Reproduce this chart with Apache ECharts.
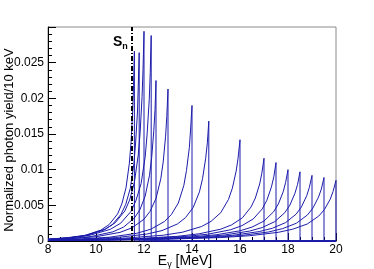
<!DOCTYPE html>
<html><head><meta charset="utf-8">
<script src="https://cdn.jsdelivr.net/npm/echarts/dist/echarts.min.js"></script>
<style>html,body{margin:0;padding:0;background:#fff}#c{width:374px;height:269px}</style>
</head><body><div id="c"></div><script>
// Endpoint energies of the spectra [MeV]
const endpoints = [11.6, 11.8, 12.0, 12.3, 12.5, 13.0, 14.0, 14.7, 16.0, 17.0, 17.5, 18.0, 18.5, 19.0, 19.5, 20.0];
// Energies (descending from the endpoint) for each spectrum
const energies = [
  [11.6, 11.565, 11.53, 11.46, 11.39, 11.25, 11.075, 10.9, 10.55, 10.2, 9.5, 8.8, 8.0],
  [11.8, 11.76, 11.73, 11.65, 11.58, 11.43, 11.24, 11.05, 10.68, 10.3, 9.55, 8.8, 8.0],
  [12.0, 11.96, 11.92, 11.84, 11.76, 11.6, 11.4, 11.2, 10.8, 10.4, 9.6, 8.8, 8.0],
  [12.3, 12.26, 12.22, 12.13, 12.05, 11.88, 11.66, 11.45, 11.03, 10.6, 9.75, 8.9, 8.0],
  [12.5, 12.46, 12.41, 12.32, 12.23, 12.05, 11.83, 11.6, 11.15, 10.7, 9.8, 8.9, 8.0],
  [13.0, 12.95, 12.9, 12.8, 12.7, 12.5, 12.25, 12.0, 11.5, 11.0, 10.0, 9.0, 8.0],
  [14.0, 13.94, 13.89, 13.77, 13.66, 13.43, 13.14, 12.85, 12.28, 11.7, 10.55, 9.4, 8.0],
  [14.7, 14.64, 14.57, 14.44, 14.31, 14.05, 13.73, 13.4, 12.75, 12.1, 10.8, 9.5, 8.0],
  [16.0, 15.92, 15.84, 15.68, 15.52, 15.2, 14.8, 14.4, 13.6, 12.8, 11.2, 9.6, 8.0],
  [17.0, 16.91, 16.82, 16.64, 16.46, 16.1, 15.65, 15.2, 14.3, 13.4, 11.6, 9.8, 8.0],
  [17.5, 17.41, 17.31, 17.12, 16.93, 16.55, 16.08, 15.6, 14.65, 13.7, 11.8, 9.9, 8.0],
  [18.0, 17.9, 17.8, 17.6, 17.4, 17.0, 16.5, 16.0, 15.0, 14.0, 12.0, 10.0, 8.0],
  [18.5, 18.4, 18.29, 18.08, 17.87, 17.45, 16.93, 16.4, 15.35, 14.3, 12.2, 10.1, 8.0],
  [19.0, 18.89, 18.78, 18.56, 18.34, 17.9, 17.35, 16.8, 15.7, 14.6, 12.4, 10.2, 8.0],
  [19.5, 19.39, 19.27, 19.04, 18.81, 18.35, 17.78, 17.2, 16.05, 14.9, 12.6, 10.3, 8.0],
  [20.0, 19.88, 19.76, 19.52, 19.28, 18.8, 18.2, 17.6, 16.4, 15.2, 12.8, 10.4, 8.0]
];
// Normalized photon yield per 10 keV at those energies
const yields = [
  [0.0266, 0.02179, 0.01835, 0.01383, 0.01091, 0.00745, 0.00519, 0.0038, 0.00231, 0.00152, 0.00074, 0.00041, 0.00023],
  [0.0264, 0.02162, 0.01822, 0.01373, 0.01082, 0.00739, 0.00515, 0.00378, 0.00229, 0.0015, 0.00074, 0.00041, 0.00023],
  [0.0294, 0.02408, 0.02029, 0.01529, 0.01205, 0.00823, 0.00573, 0.0042, 0.00255, 0.00168, 0.00082, 0.00046, 0.00026],
  [0.0288, 0.02359, 0.01987, 0.01498, 0.01181, 0.00806, 0.00562, 0.00412, 0.0025, 0.00164, 0.00081, 0.00045, 0.00025],
  [0.0225, 0.01843, 0.01553, 0.0117, 0.00923, 0.0063, 0.00439, 0.00322, 0.00195, 0.00128, 0.00063, 0.00035, 0.0002],
  [0.0213, 0.01744, 0.0147, 0.01108, 0.00873, 0.00596, 0.00415, 0.00305, 0.00185, 0.00121, 0.0006, 0.00033, 0.00019],
  [0.019, 0.01556, 0.01311, 0.00988, 0.00779, 0.00532, 0.00371, 0.00272, 0.00165, 0.00108, 0.00053, 0.00029, 0.00016],
  [0.0168, 0.01376, 0.01159, 0.00874, 0.00689, 0.0047, 0.00328, 0.0024, 0.00146, 0.00096, 0.00047, 0.00026, 0.00014],
  [0.0142, 0.01163, 0.0098, 0.00738, 0.00582, 0.00398, 0.00277, 0.00203, 0.00123, 0.00081, 0.0004, 0.00022, 0.00013],
  [0.0116, 0.0095, 0.008, 0.00603, 0.00476, 0.00325, 0.00226, 0.00166, 0.00101, 0.00066, 0.00032, 0.00018, 0.0001],
  [0.011, 0.00901, 0.00759, 0.00572, 0.00451, 0.00308, 0.00215, 0.00157, 0.00095, 0.00063, 0.00031, 0.00017, 0.0001],
  [0.01, 0.00819, 0.0069, 0.0052, 0.0041, 0.0028, 0.00195, 0.00143, 0.00087, 0.00057, 0.00028, 0.00016, 0.00009],
  [0.0097, 0.00794, 0.00669, 0.00504, 0.00398, 0.00272, 0.00189, 0.00139, 0.00084, 0.00055, 0.00027, 0.00015, 0.00009],
  [0.0092, 0.00753, 0.00635, 0.00478, 0.00377, 0.00258, 0.00179, 0.00132, 0.0008, 0.00052, 0.00026, 0.00014, 0.00008],
  [0.0089, 0.00729, 0.00614, 0.00463, 0.00365, 0.00249, 0.00174, 0.00127, 0.00077, 0.00051, 0.00025, 0.00014, 0.00008],
  [0.0085, 0.00696, 0.00587, 0.00442, 0.00349, 0.00238, 0.00166, 0.00122, 0.00074, 0.00048, 0.00024, 0.00013, 0.00008]
];
const Sn = 11.5;
const xMin = 8, xMax = 20, xStep = 2;
const yMin = 0, yMax = 0.03, yStep = 0.005;
const yTickLabels = ['0', '0.005', '0.01', '0.015', '0.02', '0.025'];

const chart = echarts.init(document.getElementById('c'), null, {renderer: 'canvas'});
const FONT = 'Liberation Sans, Arial, sans-serif';
const curveColor = '#1c1cab';

const series = endpoints.map((e0, i) => {
  const pts = energies[i].map((e, j) => [e, yields[i][j]]).reverse();
  pts.push([e0, 0]);
  pts.push([xMax, 0]);
  return {
    type: 'line', data: pts, showSymbol: false, silent: true,
    lineStyle: {color: curveColor, width: 1}, z: 3
  };
});
series.push({
  type: 'line', data: [[Sn, yMin], [Sn, yMax]], showSymbol: false, silent: true,
  lineStyle: {color: '#000', width: 2, type: [5, 2, 1, 2]}, z: 4
});

chart.setOption({
  animation: false,
  grid: {left: 48, right: 38, top: 27, bottom: 28, show: true, borderColor: '#8a8a8a', borderWidth: 1},
  xAxis: {
    type: 'value', min: xMin, max: xMax, interval: xStep,
    axisLine: {show: true, onZero: false, lineStyle: {color: '#000', width: 1}},
    axisTick: {show: true, inside: true, length: 8, lineStyle: {color: '#000'}},
    minorTick: {show: true, splitNumber: 4, length: 4, lineStyle: {color: '#000'}},
    splitLine: {show: false},
    axisLabel: {color: '#000', fontFamily: FONT, fontSize: 12, margin: 3}
  },
  yAxis: {
    type: 'value', min: yMin, max: yMax, interval: yStep,
    axisLine: {show: true, lineStyle: {color: '#000', width: 1}},
    axisTick: {show: true, inside: true, length: 8, lineStyle: {color: '#000'}},
    minorTick: {show: true, splitNumber: 5, length: 4, lineStyle: {color: '#000'}},
    splitLine: {show: false},
    axisLabel: {color: '#000', fontFamily: FONT, fontSize: 12, margin: 4,
      formatter: (v, idx) => idx < yTickLabels.length ? yTickLabels[idx] : ''}
  },
  series: series
});

const pTop = chart.convertToPixel({gridIndex: 0}, [Sn, yMax]);
const pEnd = chart.convertToPixel({gridIndex: 0}, [xMax, yMin]);
const pOrig = chart.convertToPixel({gridIndex: 0}, [xMin, yMin]);
const midX = (pEnd[0] + pOrig[0]) / 2, midY = (pTop[1] + pOrig[1]) / 2;
chart.setOption({
  graphic: [
    {type: 'text', x: pTop[0] - 19, y: pTop[1] + 7, z: 10,
     style: {text: '{s|S}{n|n}', fontFamily: FONT,
       rich: {s: {fontSize: 14, fontWeight: 'bold', fill: '#000', fontFamily: FONT},
              n: {fontSize: 9, fontWeight: 'bold', fill: '#000', fontFamily: FONT, padding: [8, 0, 0, 0]}}}},
    {type: 'text', x: midX - 7, y: 261, z: 10,
     style: {text: '{e|E}{g|γ}{e| [MeV]}', align: 'center', verticalAlign: 'middle', fontFamily: FONT,
       rich: {e: {fontSize: 14, fill: '#000', fontFamily: FONT},
              g: {fontSize: 9, fill: '#000', fontFamily: FONT, padding: [7, 0, 0, 0]}}}},
    {type: 'text', x: 9, y: midY + 6, rotation: Math.PI / 2, z: 10,
     style: {text: 'Normalized photon yield/10 keV', align: 'center', verticalAlign: 'middle',
       fontFamily: FONT, fontSize: 13, fill: '#000'}}
  ]
});
</script></body></html>
